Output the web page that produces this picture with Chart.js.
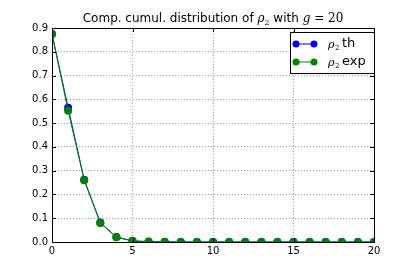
<!DOCTYPE html>
<html>
<head>
<meta charset="utf-8">
<script src="https://cdn.jsdelivr.net/npm/chart.js@4"></script>
<style>
    body { margin: 0; background: #fff; }
    #wrap { width: 415px; height: 277px; }
</style>
</head>
<body>
<div id="wrap"><canvas id="ccdf"></canvas></div>
<script>
// valeurs
var ks = [0, 1, 2, 3, 4, 5, 6, 7, 8, 9, 10, 11, 12, 13, 14, 15, 16, 17, 18, 19, 20];
var thValues = [0.875, 0.565, 0.262, 0.082, 0.021, 0.004, 0.001, 0, 0, 0, 0, 0, 0, 0, 0, 0, 0, 0, 0, 0, 0];
var expValues = [0.875, 0.552, 0.26, 0.08, 0.02, 0.005, 0.002, 0.001, 0, 0, 0, 0, 0, 0, 0, 0, 0, 0, 0, 0, 0];
var yTicks = [0, 0.1, 0.2, 0.3, 0.4, 0.5, 0.6, 0.7, 0.8, 0.9];
var xTicks = [0, 5, 10, 15, 20];

function toPoints(xs, ys) {
    return xs.map(function (x, i) { return { x: x, y: ys[i] }; });
}

// titre + légende dessinés à la main (style matplotlib)
var decorPlugin = {
    id: "decor",
    afterDraw: function (chart) {
        var ctx = chart.ctx;
        var a = chart.chartArea;
        ctx.save();
        // cadre noir
        ctx.strokeStyle = "#000";
        ctx.lineWidth = 1;
        ctx.strokeRect(a.left + 0.5, a.top + 0.5, a.right - a.left, a.bottom - a.top);

        // petites graduations vers l'intérieur
        ctx.beginPath();
        xTicks.forEach(function (v) {
            var px = Math.round(chart.scales.x.getPixelForValue(v)) + 0.5;
            ctx.moveTo(px, a.bottom); ctx.lineTo(px, a.bottom - 4);
            ctx.moveTo(px, a.top); ctx.lineTo(px, a.top + 4);
        });
        yTicks.forEach(function (v) {
            var py = Math.round(chart.scales.y.getPixelForValue(v)) + 0.5;
            ctx.moveTo(a.left, py); ctx.lineTo(a.left + 4, py);
            ctx.moveTo(a.right, py); ctx.lineTo(a.right - 4, py);
        });
        ctx.stroke();

        // titre
        ctx.fillStyle = "#000";
        ctx.textBaseline = "alphabetic";
        ctx.textAlign = "left";
        var t1 = "Comp. cumul. distribution of ";
        var t2 = "ρ";
        var t3 = " with ";
        var t4 = "g";
        var t5 = " = 20";
        ctx.font = "12px 'DejaVu Sans'";
        var w1 = ctx.measureText(t1).width;
        var w3 = ctx.measureText(t3).width;
        ctx.font = "italic 12px 'DejaVu Serif'";
        var w2 = ctx.measureText(t2).width;
        var w4 = ctx.measureText(t4).width;
        ctx.font = "12px 'DejaVu Serif'";
        var w5 = ctx.measureText(t5).width;
        ctx.font = "8px 'DejaVu Serif'";
        var wsub = ctx.measureText("2").width;
        var total = w1 + w2 + wsub + w3 + w4 + w5;
        var x = (a.left + a.right) / 2 - total / 2;
        var y = 22;
        ctx.font = "12px 'DejaVu Sans'";
        ctx.fillText(t1, x, y); x += w1;
        ctx.font = "italic 12px 'DejaVu Serif'";
        ctx.fillText(t2, x, y); x += w2;
        ctx.font = "8px 'DejaVu Serif'";
        ctx.fillText("2", x, y + 3); x += wsub;
        ctx.font = "12px 'DejaVu Sans'";
        ctx.fillText(t3, x, y); x += w3;
        ctx.font = "italic 12px 'DejaVu Serif'";
        ctx.fillText(t4, x, y); x += w4;
        ctx.font = "12px 'DejaVu Serif'";
        ctx.fillText(t5, x, y);

        // légende
        var bx = 290, by = 32, bw = 84, bh = 41;
        ctx.fillStyle = "#fff";
        ctx.fillRect(bx, by, bw, bh);
        ctx.strokeStyle = "#000";
        ctx.strokeRect(bx + 0.5, by + 0.5, bw, bh);
        var items = [
            { color: "#0000ff", label: "th", y: by + 12 },
            { color: "#008000", label: "exp", y: by + 30 }
        ];
        items.forEach(function (it) {
            ctx.strokeStyle = it.color;
            ctx.lineWidth = 1;
            ctx.beginPath();
            ctx.moveTo(bx + 6, it.y);
            ctx.lineTo(bx + 24, it.y);
            ctx.stroke();
            ctx.fillStyle = it.color;
            [bx + 6, bx + 24].forEach(function (px) {
                ctx.beginPath();
                ctx.arc(px, it.y, 3.5, 0, Math.PI * 2);
                ctx.fill();
            });
            ctx.fillStyle = "#000";
            ctx.textBaseline = "middle";
            ctx.font = "italic 11px 'DejaVu Serif'";
            ctx.fillText("ρ", bx + 38, it.y + 1);
            ctx.font = "7px 'DejaVu Serif'";
            ctx.fillText("2", bx + 45, it.y + 4);
            ctx.font = "13px 'DejaVu Sans'";
            ctx.fillText(it.label, bx + 52, it.y);
        });
        ctx.restore();
    }
};

new Chart(document.getElementById("ccdf").getContext("2d"), {
    type: "line",
    data: {
        datasets: [
            {
                label: "th",
                data: toPoints(ks, thValues),
                borderColor: "#0000ff",
                backgroundColor: "#0000ff",
                borderWidth: 1,
                pointRadius: 4,
                pointBorderWidth: 0,
                fill: false,
                order: 2
            },
            {
                label: "exp",
                data: toPoints(ks, expValues),
                borderColor: "#008000",
                backgroundColor: "#008000",
                borderWidth: 1,
                pointRadius: 4,
                pointBorderWidth: 0,
                fill: false,
                order: 1
            }
        ]
    },
    options: {
        responsive: true,
        maintainAspectRatio: false,
        animation: false,
        layout: { padding: { top: 28, right: 41, left: 0, bottom: 0 } },
        scales: {
            x: {
                type: "linear",
                min: 0,
                max: 20,
                afterBuildTicks: function (axis) {
                    axis.ticks = xTicks.map(function (v) { return { value: v }; });
                },
                afterFit: function (axis) { axis.height = 35; },
                ticks: {
                    color: "#000",
                    font: { family: "DejaVu Sans", size: 10 },
                    maxRotation: 0,
                    padding: 3
                },
                grid: {
                    color: "#a0a0a0",
                    drawTicks: false
                },
                border: { display: false, dash: [1, 2] }
            },
            y: {
                min: 0,
                max: 0.9,
                afterBuildTicks: function (axis) {
                    axis.ticks = yTicks.map(function (v) { return { value: v }; });
                },
                afterFit: function (axis) { axis.width = 52; },
                ticks: {
                    color: "#000",
                    font: { family: "DejaVu Sans", size: 10 },
                    padding: 4,
                    callback: function (v) { return v.toFixed(1); }
                },
                grid: {
                    color: "#a0a0a0",
                    drawTicks: false
                },
                border: { display: false, dash: [1, 2] }
            }
        },
        plugins: {
            legend: { display: false },
            title: { display: false },
            tooltip: { enabled: false }
        }
    },
    plugins: [decorPlugin]
});
</script>
</body>
</html>
